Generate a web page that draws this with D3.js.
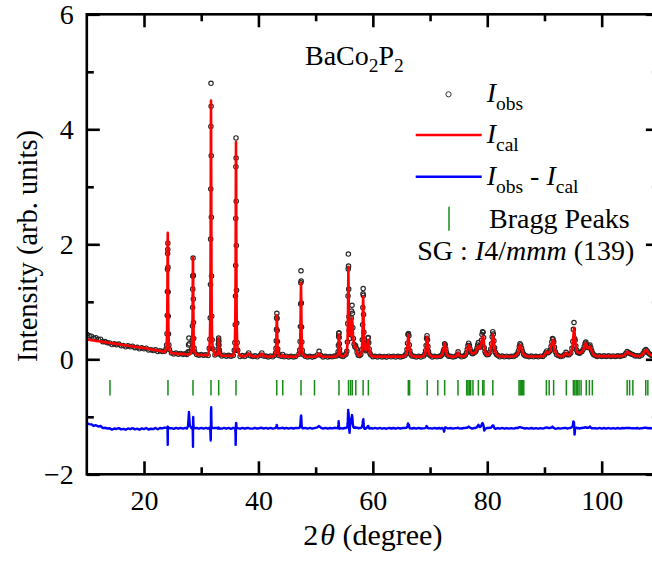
<!DOCTYPE html>
<html>
<head>
<meta charset="utf-8">
<script src="https://cdn.jsdelivr.net/npm/d3@7"></script>
<style>
  html, body { margin: 0; padding: 0; background: #fff; }
  svg, svg text { font-family: "Liberation Serif", Tinos, "Times New Roman", Times, serif; }
  svg { display: block; }
</style>
</head>
<body>
<svg id="chart" width="652" height="565"></svg>
<script>
// Powder diffraction pattern of BaCo2P2 with Rietveld fit.
// 2-theta sampling points (degrees)
const twoTheta = [
  10.0,10.4,10.8,11.2,11.6,12.0,12.4,12.8,13.2,13.6,
  14.0,14.4,14.8,15.2,15.6,16.0,16.4,16.8,17.2,17.6,
  18.0,18.4,18.8,19.2,19.6,20.0,20.4,20.8,21.2,21.6,
  22.0,22.4,22.8,23.2,23.6,
  23.85,23.95,24.02,24.06,24.09,24.11,24.13,24.15,24.17,24.19,24.21,24.24,24.28,24.35,24.45,
  24.8,25.2,25.6,26.0,26.4,26.8,27.2,27.5,
  27.7,27.78,27.85,27.92,28.0,
  28.26,28.36,28.43,28.47,28.50,28.52,28.54,28.56,28.58,28.60,28.62,28.65,28.69,28.76,28.86,
  29.2,29.6,30.0,30.4,30.8,31.2,
  31.41,31.51,31.58,31.62,31.65,31.67,31.69,31.71,31.73,31.75,31.77,31.80,31.84,31.91,32.01,
  32.4,32.83,32.90,32.95,32.99,33.02,33.05,33.08,33.11,33.15,33.20,33.27,
  33.6,34.0,34.4,34.8,35.2,35.6,
  35.78,35.88,35.95,35.99,36.02,36.04,36.06,36.08,36.10,36.12,36.14,36.17,36.21,36.28,36.38,
  36.8,37.2,37.6,38.0,38.3,38.6,39.0,39.4,39.8,40.3,40.6,40.9,41.3,41.7,42.1,42.5,
  42.87,43.00,43.07,43.12,43.16,43.19,43.22,43.25,43.28,43.32,43.37,43.44,43.57,
  44.0,44.25,44.5,44.9,45.3,45.7,46.1,46.5,
  47.09,47.22,47.29,47.34,47.38,47.41,47.44,47.47,47.50,47.54,47.59,47.66,47.79,
  48.2,48.6,49.0,49.4,49.8,50.3,50.6,50.9,51.3,51.7,52.1,52.5,52.9,53.3,
  53.73,53.86,53.93,53.98,54.02,54.05,54.08,54.11,54.14,54.18,54.23,54.30,54.43,
  54.8,55.1,55.30,55.45,55.55,55.62,55.66,55.69,55.72,55.75,55.78,55.82,55.87,55.93,
  56.00,56.07,56.14,56.22,56.29,56.36,56.43,56.50,56.60,56.72,56.85,56.97,57.10,57.25,57.45,57.70,
  57.90,58.05,58.15,58.21,58.25,58.28,58.31,58.34,58.38,58.43,58.50,58.60,58.72,58.85,58.98,59.08,59.15,59.21,59.28,59.36,59.48,59.65,60.0,
  60.4,60.8,61.2,61.6,62.0,62.4,62.8,63.2,63.6,64.0,64.4,64.8,65.2,
  65.62,65.84,65.97,66.06,66.14,66.22,66.30,66.38,66.47,66.60,66.82,
  67.2,67.6,68.0,68.4,
  68.87,69.09,69.22,69.31,69.39,69.47,69.55,69.63,69.72,69.85,70.07,
  70.4,70.8,71.2,71.6,
  71.85,72.10,72.25,72.35,72.45,72.55,72.65,72.75,72.85,73.00,73.25,
  73.6,74.0,74.4,74.7,74.9,75.1,75.5,75.9,
  76.15,76.35,76.50,76.62,76.75,76.88,77.00,77.15,77.30,77.45,77.65,77.90,
  78.05,78.20,78.33,78.45,78.58,78.72,78.85,78.97,79.08,79.18,79.27,79.36,79.47,79.60,79.75,79.95,
  80.20,80.45,80.62,80.75,80.86,80.96,81.06,81.16,81.28,81.42,81.60,81.85,
  82.2,82.6,83.0,83.4,83.8,84.2,84.6,85.0,85.25,85.45,85.60,85.72,85.85,86.00,86.15,86.35,86.60,86.90,
  87.3,87.7,88.1,88.5,88.9,89.3,89.7,90.0,90.2,90.4,90.6,90.8,91.0,91.15,91.28,91.40,91.50,91.62,91.75,91.90,92.10,92.40,92.80,
  93.2,93.5,93.77,94.0,94.3,94.6,94.8,94.95,95.05,95.16,95.26,95.36,95.48,95.62,95.78,95.95,96.15,96.35,96.55,96.75,96.95,97.10,97.22,97.35,97.50,97.65,97.80,97.95,98.10,98.25,98.40,98.60,98.85,
  99.2,99.6,100.0,100.4,100.8,101.2,101.6,102.0,102.4,102.8,103.2,103.6,103.95,104.2,104.45,104.7,104.95,105.2,105.5,105.85,106.2,106.6,106.95,107.25,107.5,107.72,107.95,108.15,108.4,108.7,109.0,109.4,109.8
];

// Observed intensity (arb. units)
const iObs = [
  0.435,0.411,0.402,0.368,0.375,0.347,0.349,0.307,0.307,0.287,
  0.285,0.256,0.269,0.255,0.264,0.236,0.240,0.218,0.235,0.217,
  0.227,0.201,0.207,0.183,0.200,0.182,0.193,0.161,0.166,0.153,
  0.165,0.134,0.150,0.134,0.141,
  0.178,0.250,0.445,0.760,1.180,1.560,1.840,1.910,2.020,1.600,1.170,0.750,0.440,0.250,0.172,
  0.110,0.094,0.108,0.090,0.101,0.086,0.097,0.084,
  0.130,0.250,0.370,0.270,0.140,
  0.130,0.190,0.330,0.580,0.900,1.220,1.450,1.450,1.760,1.460,1.050,0.640,0.360,0.190,0.128,
  0.085,0.070,0.084,0.069,0.080,0.066,
  0.190,0.350,0.720,1.300,2.090,2.960,4.050,4.800,4.400,3.540,2.470,1.450,0.750,0.340,0.185,
  0.075,0.095,0.115,0.180,0.260,0.330,0.370,0.315,0.250,0.165,0.125,0.088,
  0.058,0.071,0.055,0.068,0.052,0.066,
  0.155,0.290,0.600,1.100,1.630,2.450,3.350,3.850,3.500,2.750,1.980,1.200,0.630,0.290,0.155,
  0.050,0.064,0.048,0.075,0.110,0.062,0.047,0.060,0.044,0.070,0.110,0.058,0.055,0.042,0.056,0.043,
  0.072,0.110,0.190,0.320,0.520,0.720,0.800,0.710,0.500,0.310,0.180,0.105,0.068,
  0.052,0.085,0.043,0.054,0.040,0.052,0.041,0.050,
  0.090,0.160,0.310,0.570,0.960,1.330,1.540,1.360,0.980,0.560,0.300,0.155,0.082,
  0.052,0.040,0.051,0.038,0.050,0.075,0.140,0.070,0.041,0.053,0.039,0.050,0.043,0.055,
  0.060,0.080,0.130,0.240,0.400,0.450,0.460,0.380,0.270,0.180,0.110,0.075,0.060,
  0.047,0.075,0.090,0.140,0.300,0.620,1.100,1.570,1.830,1.620,1.220,0.740,0.500,0.360,
  0.450,0.520,0.600,0.720,0.840,0.940,0.800,0.550,0.360,0.260,0.220,0.240,0.190,0.120,0.072,0.064,
  0.085,0.170,0.340,0.600,0.900,1.140,1.230,1.110,0.780,0.470,0.280,0.180,0.150,0.170,0.210,0.300,0.370,0.380,0.290,0.180,0.105,0.075,0.046,
  0.052,0.040,0.053,0.041,0.049,0.038,0.054,0.043,0.051,0.039,0.052,0.042,0.050,
  0.065,0.100,0.170,0.280,0.430,0.450,0.410,0.250,0.150,0.090,0.058,
  0.051,0.040,0.053,0.042,
  0.058,0.090,0.150,0.240,0.360,0.410,0.340,0.220,0.140,0.085,0.062,
  0.041,0.052,0.044,0.053,
  0.052,0.080,0.110,0.150,0.175,0.270,0.250,0.180,0.120,0.077,0.055,
  0.052,0.041,0.050,0.075,0.130,0.068,0.044,0.055,
  0.070,0.110,0.170,0.240,0.280,0.240,0.180,0.135,0.105,0.095,0.110,0.125,
  0.150,0.190,0.250,0.290,0.230,0.210,0.250,0.330,0.430,0.480,0.470,0.380,0.200,0.130,0.100,0.080,
  0.085,0.120,0.180,0.270,0.390,0.480,0.440,0.320,0.200,0.120,0.083,0.064,
  0.044,0.056,0.043,0.054,0.045,0.052,0.047,0.070,0.095,0.150,0.220,0.270,0.250,0.190,0.140,0.090,0.062,0.056,
  0.045,0.055,0.043,0.053,0.044,0.054,0.050,0.075,0.110,0.145,0.115,0.125,0.155,0.220,0.300,0.360,0.350,0.300,0.210,0.130,0.085,0.066,0.047,
  0.058,0.085,0.120,0.080,0.078,0.110,0.190,0.310,0.520,0.640,0.360,0.330,0.230,0.160,0.120,0.115,0.105,0.125,0.135,0.170,0.220,0.280,0.300,0.260,0.210,0.200,0.230,0.250,0.200,0.150,0.110,0.078,0.066,
  0.050,0.061,0.049,0.060,0.050,0.061,0.049,0.059,0.050,0.060,0.051,0.063,0.072,0.100,0.135,0.115,0.105,0.088,0.078,0.058,0.062,0.053,0.072,0.105,0.150,0.170,0.145,0.110,0.090,0.068,0.065,0.055,0.061
];

// Calculated intensity from the refinement (arb. units)
const iCal = [
  0.345,0.339,0.333,0.327,0.321,0.315,0.309,0.303,0.297,0.291,
  0.285,0.279,0.273,0.267,0.261,0.255,0.249,0.243,0.237,0.231,
  0.225,0.219,0.213,0.207,0.201,0.195,0.188,0.182,0.174,0.167,
  0.160,0.152,0.144,0.136,0.128,
  0.170,0.243,0.430,0.742,1.158,1.574,1.990,2.198,1.990,1.574,1.158,0.742,0.430,0.243,0.170,
  0.108,0.103,0.099,0.095,0.094,0.092,0.090,0.089,
  0.088,0.088,0.087,0.087,0.086,
  0.126,0.185,0.337,0.590,0.927,1.264,1.601,1.770,1.601,1.264,0.927,0.590,0.337,0.185,0.126,
  0.079,0.077,0.076,0.074,0.073,0.072,
  0.182,0.337,0.736,1.400,2.286,3.172,4.058,4.501,4.058,3.172,2.286,1.400,0.736,0.337,0.182,
  0.069,0.090,0.120,0.171,0.246,0.321,0.366,0.321,0.246,0.171,0.120,0.090,
  0.064,0.063,0.062,0.061,0.060,0.059,
  0.151,0.281,0.616,1.174,1.918,2.662,3.406,3.778,3.406,2.662,1.918,1.174,0.616,0.281,0.151,
  0.057,0.056,0.055,0.070,0.105,0.068,0.052,0.051,0.050,0.065,0.100,0.063,0.049,0.049,0.048,0.048,
  0.070,0.106,0.178,0.300,0.480,0.660,0.768,0.660,0.480,0.300,0.178,0.106,0.070,
  0.047,0.075,0.047,0.046,0.046,0.046,0.045,0.045,
  0.084,0.148,0.276,0.495,0.816,1.137,1.330,1.137,0.816,0.495,0.276,0.148,0.084,
  0.045,0.045,0.045,0.045,0.046,0.060,0.100,0.060,0.045,0.045,0.045,0.045,0.045,0.046,
  0.058,0.077,0.115,0.181,0.277,0.373,0.431,0.373,0.277,0.181,0.115,0.077,0.058,
  0.050,0.070,0.085,0.130,0.250,0.500,0.850,1.250,1.610,1.350,1.000,0.700,0.520,0.440,
  0.420,0.440,0.480,0.560,0.650,0.710,0.620,0.480,0.340,0.250,0.210,0.220,0.180,0.110,0.070,0.060,
  0.080,0.150,0.300,0.520,0.780,1.000,1.090,0.950,0.700,0.450,0.280,0.190,0.160,0.160,0.200,0.270,0.330,0.340,0.270,0.180,0.110,0.070,0.052,
  0.046,0.046,0.046,0.046,0.046,0.046,0.046,0.046,0.046,0.046,0.046,0.046,0.046,
  0.061,0.091,0.151,0.233,0.345,0.420,0.345,0.233,0.151,0.091,0.061,
  0.046,0.046,0.046,0.046,
  0.060,0.087,0.142,0.218,0.321,0.390,0.321,0.218,0.142,0.087,0.060,
  0.046,0.046,0.047,0.047,
  0.056,0.075,0.112,0.164,0.233,0.280,0.233,0.164,0.112,0.075,0.056,
  0.047,0.047,0.047,0.070,0.120,0.070,0.048,0.050,
  0.065,0.100,0.160,0.220,0.250,0.220,0.170,0.130,0.110,0.100,0.105,0.120,
  0.140,0.170,0.210,0.230,0.200,0.190,0.220,0.280,0.350,0.390,0.400,0.340,0.240,0.150,0.100,0.075,
  0.080,0.110,0.170,0.250,0.350,0.430,0.390,0.300,0.200,0.130,0.085,0.060,
  0.050,0.050,0.050,0.050,0.050,0.050,0.052,0.065,0.090,0.140,0.200,0.250,0.230,0.180,0.130,0.090,0.065,0.053,
  0.050,0.050,0.050,0.050,0.050,0.050,0.055,0.070,0.100,0.130,0.110,0.120,0.150,0.210,0.280,0.330,0.340,0.290,0.210,0.140,0.090,0.062,0.052,
  0.055,0.080,0.115,0.085,0.075,0.100,0.170,0.270,0.400,0.540,0.470,0.330,0.220,0.150,0.120,0.110,0.110,0.120,0.130,0.160,0.210,0.260,0.280,0.250,0.200,0.190,0.210,0.220,0.190,0.150,0.110,0.080,0.062,
  0.055,0.055,0.055,0.055,0.055,0.055,0.055,0.055,0.055,0.055,0.056,0.058,0.070,0.095,0.130,0.110,0.100,0.090,0.075,0.060,0.057,0.058,0.070,0.100,0.140,0.160,0.140,0.110,0.085,0.070,0.062,0.060,0.060
];

// Allowed reflection positions for SG I4/mmm (degrees)
const braggPositions = [
  14.05, 24.19, 28.56, 31.71, 33.05, 36.08, 43.2, 44.25, 47.44, 49.8,
  54.08, 55.75, 56.1, 56.4, 57.02, 58.3, 59.22, 66.2, 66.42, 69.5,
  71.35, 72.55, 74.88, 76.4, 76.62, 76.85, 77.1, 77.5, 78.44, 79.2,
  79.42, 80.97, 85.55, 85.75, 85.95, 86.15, 86.38, 90.33, 90.82, 91.6,
  93.82, 95.05, 95.3, 95.55, 95.8, 96.05, 96.4, 97.3, 97.85, 98.37,
  104.45, 104.88, 105.45, 107.7, 108.07
];

const xMajorTicks = [20, 40, 60, 80, 100];
const xMinorTicks = [30, 50, 70, 90];
const yMajorTicks = [-2, 0, 2, 4, 6];
const yMinorTicks = [-1, 1, 3, 5];

// Vertical placement of the difference curve and the reflection markers
const diffOffset = -1.2;
const braggTop = -0.36, braggBottom = -0.63;

const SERIF = '"Liberation Serif", Tinos, "Times New Roman", Times, serif';
const svg = d3.select("#chart").attr("font-family", SERIF);
const x = d3.scaleLinear().domain([10, 110]).range([86.8, 658.9]);
const y = d3.scaleLinear().domain([-2, 6]).range([474.3, 14.3]);

const AXIS_W = 2.6, MAJOR = 13, MINOR = 7, FONT = 28;

svg.append("defs").append("clipPath").attr("id", "plotClip")
  .append("rect")
  .attr("x", x(10)).attr("y", y(6))
  .attr("width", x(110) - x(10)).attr("height", y(-2) - y(6));

const plot = svg.append("g").attr("clip-path", "url(#plotClip)");
const idx = d3.range(twoTheta.length);

// observed points
plot.append("g")
  .selectAll("circle")
  .data(idx)
  .join("circle")
  .attr("cx", i => x(twoTheta[i]))
  .attr("cy", i => y(iObs[i]))
  .attr("r", 2.2)
  .attr("fill", "none")
  .attr("stroke", "#262626")
  .attr("stroke-width", 1.15);

// calculated profile
plot.append("path")
  .datum(idx)
  .attr("fill", "none")
  .attr("stroke", "#ff0000")
  .attr("stroke-width", 2.6)
  .attr("stroke-linejoin", "round")
  .attr("d", d3.line().x(i => x(twoTheta[i])).y(i => y(iCal[i])));

// difference curve
plot.append("path")
  .datum(idx)
  .attr("fill", "none")
  .attr("stroke", "#0000ff")
  .attr("stroke-width", 2.4)
  .attr("stroke-linejoin", "round")
  .attr("d", d3.line().x(i => x(twoTheta[i])).y(i => y(iObs[i] - iCal[i] + diffOffset)));

// reflection markers
plot.append("g")
  .selectAll("line")
  .data(braggPositions)
  .join("line")
  .attr("x1", d => x(d)).attr("x2", d => x(d))
  .attr("y1", y(braggTop)).attr("y2", y(braggBottom))
  .attr("stroke", "#168c16")
  .attr("stroke-width", 1.5);

// axes
function styleAxis(g) {
  g.select(".domain").remove();
  g.attr("font-family", SERIF).attr("font-size", FONT);
  g.selectAll(".tick line").attr("stroke", "#000").attr("stroke-width", AXIS_W);
  g.selectAll(".tick text").attr("fill", "#000").attr("font-family", SERIF);
}

svg.append("g").attr("transform", `translate(0,${y(-2)})`)
  .call(d3.axisBottom(x).tickValues(xMajorTicks).tickSize(-MAJOR).tickPadding(16).tickFormat(d3.format("d")))
  .call(styleAxis);
svg.append("g").attr("transform", `translate(0,${y(-2)})`)
  .call(d3.axisBottom(x).tickValues(xMinorTicks).tickSize(-MINOR).tickFormat(""))
  .call(styleAxis);
svg.append("g").attr("transform", `translate(0,${y(6)})`)
  .call(d3.axisTop(x).tickValues(xMajorTicks).tickSize(-MAJOR).tickFormat(""))
  .call(styleAxis);
svg.append("g").attr("transform", `translate(0,${y(6)})`)
  .call(d3.axisTop(x).tickValues(xMinorTicks).tickSize(-MINOR).tickFormat(""))
  .call(styleAxis);

svg.append("g").attr("transform", `translate(${x(10)},0)`)
  .call(d3.axisLeft(y).tickValues(yMajorTicks).tickSize(-MAJOR).tickPadding(13).tickFormat(d3.format("d")))
  .call(styleAxis);
svg.append("g").attr("transform", `translate(${x(10)},0)`)
  .call(d3.axisLeft(y).tickValues(yMinorTicks).tickSize(-MINOR).tickFormat(""))
  .call(styleAxis);
svg.append("g").attr("transform", `translate(${x(110)},0)`)
  .call(d3.axisRight(y).tickValues(yMajorTicks).tickSize(-MAJOR).tickFormat(""))
  .call(styleAxis);
svg.append("g").attr("transform", `translate(${x(110)},0)`)
  .call(d3.axisRight(y).tickValues(yMinorTicks).tickSize(-MINOR).tickFormat(""))
  .call(styleAxis);

// frame
svg.append("rect")
  .attr("x", x(10)).attr("y", y(6))
  .attr("width", x(110) - x(10)).attr("height", y(-2) - y(6))
  .attr("fill", "none").attr("stroke", "#000").attr("stroke-width", AXIS_W);

// axis titles
svg.append("text")
  .attr("transform", `translate(37,246) rotate(-90)`)
  .attr("text-anchor", "middle")
  .attr("font-family", SERIF)
  .attr("font-size", 28.5)
  .text("Intensity (arb. units)");

const xTitle = svg.append("text")
  .attr("x", (x(10) + x(110)) / 2).attr("y", 545)
  .attr("text-anchor", "middle")
  .attr("font-family", SERIF)
  .attr("font-size", 30);
xTitle.append("tspan").text("2");
xTitle.append("tspan").attr("dx", 2).attr("font-style", "italic").text("θ");
xTitle.append("tspan").text(" (degree)");

// legend
const SUB = 19.5, SUBDY = 8;
function label(px, py) {
  return svg.append("text").attr("x", px).attr("y", py)
    .attr("font-family", SERIF).attr("font-size", FONT);
}
function subText(sel, base, sub) {
  sel.append("tspan").attr("font-style", "italic").text(base);
  sel.append("tspan").attr("font-size", SUB).attr("dy", SUBDY).text(sub);
}

const formula = label(305, 65);
formula.append("tspan").text("BaCo");
formula.append("tspan").attr("font-size", SUB).attr("dy", 7).text("2");
formula.append("tspan").attr("dy", -7).text("P");
formula.append("tspan").attr("font-size", SUB).attr("dy", 7).text("2");

svg.append("circle").attr("cx", 448.5).attr("cy", 94.3).attr("r", 2.6)
  .attr("fill", "none").attr("stroke", "#333").attr("stroke-width", 1);
subText(label(486.7, 101.7), "I", "obs");

svg.append("line").attr("x1", 415.7).attr("x2", 481.7).attr("y1", 135).attr("y2", 135)
  .attr("stroke", "#ff0000").attr("stroke-width", 2.6);
subText(label(486.7, 143.3), "I", "cal");

svg.append("line").attr("x1", 415.7).attr("x2", 481.7).attr("y1", 176.7).attr("y2", 176.7)
  .attr("stroke", "#0000ff").attr("stroke-width", 2.6);
const diffLabel = label(486.7, 185);
diffLabel.append("tspan").attr("font-style", "italic").text("I");
diffLabel.append("tspan").attr("font-size", SUB).attr("dy", SUBDY).text("obs");
diffLabel.append("tspan").attr("dy", -SUBDY).text(" - ");
diffLabel.append("tspan").attr("font-style", "italic").text("I");
diffLabel.append("tspan").attr("font-size", SUB).attr("dy", SUBDY).text("cal");

svg.append("line").attr("x1", 449).attr("x2", 449).attr("y1", 206.7).attr("y2", 230.7)
  .attr("stroke", "#168c16").attr("stroke-width", 1.5);
label(489, 228.3).text("Bragg Peaks");

const sg = label(417.3, 260);
sg.append("tspan").text("SG : ");
sg.append("tspan").attr("font-style", "italic").text("I");
sg.append("tspan").text("4/");
sg.append("tspan").attr("font-style", "italic").text("mmm");
sg.append("tspan").text(" (139)");
</script>
</body>
</html>
